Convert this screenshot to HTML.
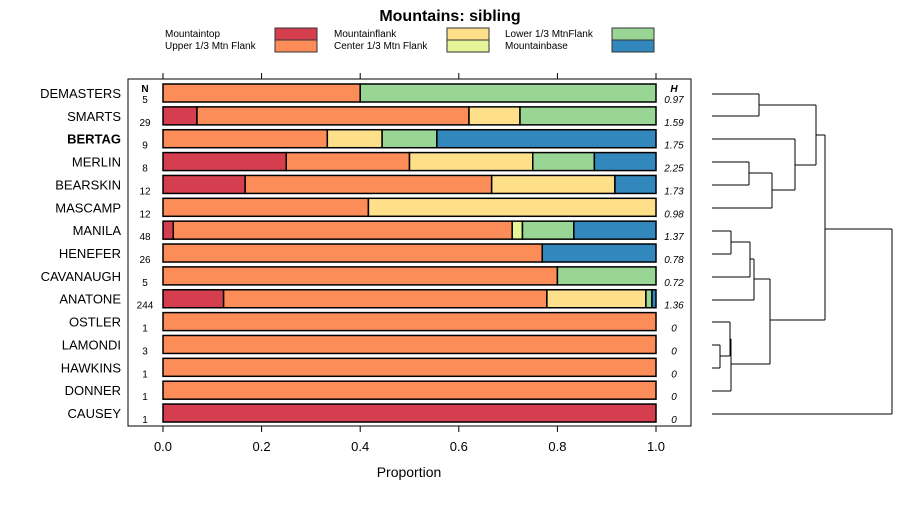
<!DOCTYPE html>
<html><head><meta charset="utf-8"><style>
body{margin:0;background:#fff;}
svg{font-family:"Liberation Sans",Arial,sans-serif;}
</style></head><body>
<svg id="c" width="900" height="500" xmlns="http://www.w3.org/2000/svg">
<text x="450" y="21" text-anchor="middle" font-size="16" font-weight="bold">Mountains: sibling</text>
<g id="legend"></g>
<rect x="128" y="79" width="563" height="347" fill="none" stroke="#000" stroke-width="1"/>
<g id="bars"></g>
<g id="axes"></g>
<g id="dendro"></g>
<text x="409" y="477" text-anchor="middle" font-size="14">Proportion</text>
<text x="145" y="92" text-anchor="middle" font-size="10" font-weight="bold">N</text>
<text x="674" y="92" text-anchor="middle" font-size="10" font-weight="bold" font-style="italic">H</text>
</svg>
<script>
const categories=["Mountaintop","Upper 1/3 Mtn Flank","Mountainflank","Center 1/3 Mtn Flank","Lower 1/3 MtnFlank","Mountainbase"];
const colors=["#d53e4f","#fc8d59","#fee08b","#e6f598","#99d594","#3288bd"];
const sites=["DEMASTERS","SMARTS","BERTAG","MERLIN","BEARSKIN","MASCAMP","MANILA","HENEFER","CAVANAUGH","ANATONE","OSTLER","LAMONDI","HAWKINS","DONNER","CAUSEY"];
const nValues=[5,29,9,8,12,12,48,26,5,244,1,3,1,1,1];
const hValues=["0.97","1.59","1.75","2.25","1.73","0.98","1.37","0.78","0.72","1.36","0","0","0","0","0"];
const mountaintop=[0,2,0,2,2,0,1,0,0,30,0,0,0,0,1];
const upper=[2,16,3,2,6,5,33,20,4,160,1,3,1,1,0];
const flank=[0,3,1,2,3,7,0,0,0,49,0,0,0,0,0];
const center=[0,0,0,0,0,0,1,0,0,0,0,0,0,0,0];
const lower=[3,8,1,1,0,0,5,0,1,3,0,0,0,0,0];
const base=[0,0,4,1,1,0,8,6,0,2,0,0,0,0,0];
const xTicks=[0,0.2,0.4,0.6,0.8,1.0];
const xTickLabels=["0.0","0.2","0.4","0.6","0.8","1.0"];

const NS="http://www.w3.org/2000/svg";
function mk(tag,attrs,parent){const e=document.createElementNS(NS,tag);for(const k in attrs)e.setAttribute(k,attrs[k]);parent.appendChild(e);return e;}
const xs=v=>163+v*493;
const ys=i=>93+i*22.86;
const series=[mountaintop,upper,flank,center,lower,base];
const bars=document.getElementById('bars');
const axes=document.getElementById('axes');
sites.forEach((s,i)=>{
  const y=ys(i);
  const lab=mk('text',{x:121,y:y+5,'text-anchor':'end','font-size':13,'font-weight':s==='BERTAG'?'bold':'normal'},axes);
  lab.textContent=s;
  
  
  const n=mk('text',{x:145,y:y+10,'text-anchor':'middle','font-size':10},axes);
  n.textContent=nValues[i];
  
  
  const h=mk('text',{x:674,y:y+10,'text-anchor':'middle','font-size':10,'font-style':'italic'},axes);
  h.textContent=hValues[i];
  
  
  const tot=series.reduce((a,sr)=>a+sr[i],0);
  let cum=0;
  series.forEach((sr,k)=>{
    if(!sr[i])return;
    const x0=xs(cum/tot);cum+=sr[i];const x1=xs(cum/tot);
    const r=mk('rect',{x:x0,y:y-9,width:x1-x0,height:18,fill:colors[k],stroke:'#000','stroke-width':1.5},bars);
    
    
  });
});
xTicks.forEach((t,i)=>{
  const x=xs(t);
  mk('line',{x1:x,x2:x,y1:426,y2:432,stroke:'#000'},axes);
  mk('line',{x1:x,x2:x,y1:73,y2:79,stroke:'#000'},axes);
  const tl=mk('text',{x:x,y:451,'text-anchor':'middle','font-size':13},axes);
  tl.textContent=xTickLabels[i];
  
  
});
// legend
const lg=document.getElementById('legend');
const lx=[[165,275],[165,275],[334,447],[334,447],[505,612],[505,612]];
categories.forEach((c,k)=>{
  const row=k%2,[tx,bx]=lx[k];const y=28+row*12;
  const t=mk('text',{x:tx,y:y+9,'font-size':10},lg);t.textContent=c;
  
  
  mk('rect',{x:bx,y:y,width:42,height:12,fill:colors[k],stroke:'#333','stroke-width':1},lg);
});
// dendrogram
const dg=document.getElementById('dendro');
const segs=[
 [712,94,759,94],[712,116,759,116],[759,94,759,116],
 [712,162,749,162],[712,185,749,185],[749,162,749,185],
 [749,173,772,173],[712,208,772,208],[772,173,772,208],
 [712,139,795,139],[772,190,795,190],[795,139,795,190],
 [759,105,816,105],[795,165,816,165],[816,105,816,165],
 [712,231,731,231],[712,254,731,254],[731,231,731,254],
 [731,242,750,242],[712,277,750,277],[750,242,750,277],
 [750,259,754,259],[712,300,754,300],[754,259,754,300],
 [712,345,720,345],[712,368,720,368],[720,345,720,368],
 [712,322,730,322],[720,356,730,356],[730,322,730,356],
 [730,339,731,339],[712,391,731,391],[731,339,731,391],
 [754,279,770,279],[731,364,770,364],[770,279,770,364],
 [816,135,825,135],[770,320,825,320],[825,135,825,320],
 [825,229,892,229],[712,414,892,414],[892,229,892,414]
];
segs.forEach(s=>mk('line',{x1:s[0],y1:s[1],x2:s[2],y2:s[3],stroke:'#000','stroke-width':1},dg));
</script>
</body></html>
